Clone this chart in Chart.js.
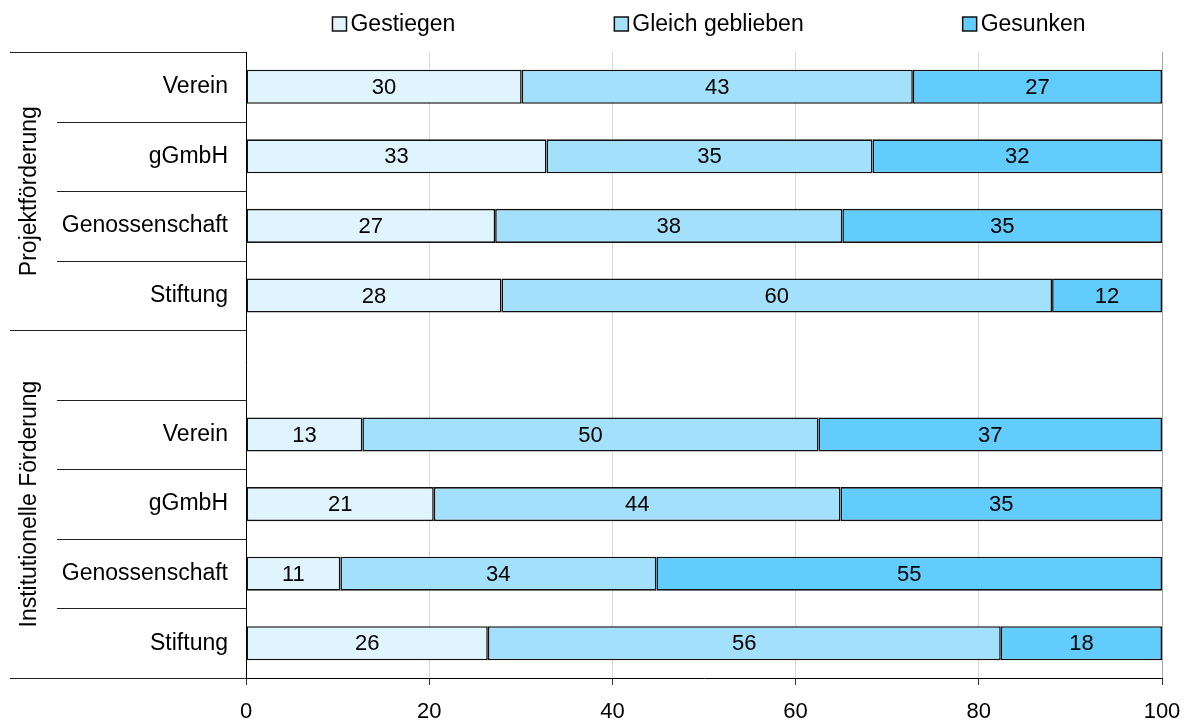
<!DOCTYPE html>
<html>
<head>
<meta charset="utf-8">
<script src="https://cdn.jsdelivr.net/npm/chart.js@4.4.0/dist/chart.umd.min.js"></script>
<style>
html, body { margin: 0; padding: 0; background: #fff; }
#wrap { width: 1189px; height: 722px; }
</style>
</head>
<body>
<div id="wrap"><canvas id="chart"></canvas></div>
<script>
const categories = ['Verein', 'gGmbH', 'Genossenschaft', 'Stiftung', '', 'Verein', 'gGmbH', 'Genossenschaft', 'Stiftung']
const groups = ['Projektförderung', 'Institutionelle Förderung']
const groupRows = [[0, 3], [4, 8]]
const seriesNames = ['Gestiegen', 'Gleich geblieben', 'Gesunken']

// shares as drawn (bar lengths), and the rounded numbers printed in the bars
const gestiegen = [30.1, 32.8, 27.2, 27.9, null, 12.7, 20.5, 10.3, 26.4]
const gleich = [42.7, 35.6, 37.9, 60.1, null, 49.8, 44.4, 34.5, 56.0]
const gesunken = [27.2, 31.6, 34.9, 12.0, null, 37.5, 35.1, 55.2, 17.6]
const gestiegenLabels = [30, 33, 27, 28, null, 13, 21, 11, 26]
const gleichLabels = [43, 35, 38, 60, null, 50, 44, 34, 56]
const gesunkenLabels = [27, 32, 35, 12, null, 37, 35, 55, 18]
const xTicks = [0, 20, 40, 60, 80, 100]

const colors = ['#e0f4fd', '#a3e0fb', '#62cdfc']
const FONT = '"Liberation Sans", Arial, sans-serif'

const values = [gestiegen, gleich, gesunken]
const valueLabels = [gestiegenLabels, gleichLabels, gesunkenLabels]

const decor = {
    id: 'decor',
    afterDatasetsDraw(chart) {
        const ctx = chart.ctx
        ctx.save()
        ctx.font = '22px ' + FONT
        ctx.fillStyle = '#000'
        ctx.textAlign = 'center'
        ctx.textBaseline = 'middle'
        chart.data.datasets.forEach((ds, di) => {
            chart.getDatasetMeta(di).data.forEach((bar, i) => {
                const lbl = valueLabels[di][i]
                if (lbl == null) return
                ctx.fillText(String(lbl), (bar.x + bar.base) / 2, bar.y + 1)
            })
        })
        ctx.restore()
    },
    afterDraw(chart) {
        const {ctx, chartArea: a, scales: {y}} = chart
        ctx.save()
        // row separators on the left
        ctx.strokeStyle = '#222'
        ctx.lineWidth = 1
        const step = y.getPixelForValue(1) - y.getPixelForValue(0)
        const longRows = [-0.5, 3.5, 8.5]
        for (let b = -0.5; b <= categories.length - 0.5; b += 1) {
            const py = Math.round(y.getPixelForValue(0) + b * step) + 0.5
            const x0 = longRows.includes(b) ? 10 : 57
            ctx.beginPath()
            ctx.moveTo(x0, py)
            ctx.lineTo(a.left, py)
            ctx.stroke()
        }
        // group titles, rotated
        ctx.font = '23px ' + FONT
        ctx.fillStyle = '#000'
        ctx.textAlign = 'center'
        ctx.textBaseline = 'middle'
        groups.forEach((g, gi) => {
            const [r0, r1] = groupRows[gi]
            const top = y.getPixelForValue(0) + (r0 - 0.5) * step
            const bot = y.getPixelForValue(0) + (r1 + 0.5) * step
            ctx.save()
            ctx.translate(30, (top + bot) / 2)
            ctx.rotate(-Math.PI / 2)
            ctx.fillText(g, 0, 0)
            ctx.restore()
        })
        // legend
        ctx.font = '23px ' + FONT
        ctx.textAlign = 'left'
        const box = 14, gapText = 4, gapItem = 159
        const widths = seriesNames.map(n => box + gapText + ctx.measureText(n).width)
        const total = widths.reduce((s, w) => s + w, 0) + gapItem * (seriesNames.length - 1)
        let lx = (a.left + a.right) / 2 + 5 - total / 2
        const ly = 24
        seriesNames.forEach((n, i) => {
            ctx.fillStyle = colors[i]
            ctx.fillRect(lx, ly - box / 2, box, box)
            ctx.strokeStyle = '#111'
            ctx.lineWidth = 1.5
            ctx.strokeRect(lx, ly - box / 2, box, box)
            ctx.fillStyle = '#000'
            ctx.fillText(n, lx + box + gapText, ly + 1)
            lx += widths[i] + gapItem
        })
        ctx.restore()
    }
}

new Chart(document.getElementById('chart'), {
    type: 'bar',
    data: {
        labels: categories,
        datasets: seriesNames.map((name, i) => ({
            label: name,
            data: values[i],
            backgroundColor: colors[i],
            borderColor: '#111',
            borderWidth: 1.6,
            borderSkipped: false,
            categoryPercentage: 0.5,
            barPercentage: 0.98,
        }))
    },
    options: {
        indexAxis: 'y',
        responsive: true,
        maintainAspectRatio: false,
        animation: false,
        layout: {
            padding: { top: 52, left: 10, right: 27, bottom: 0 }
        },
        scales: {
            x: {
                stacked: true,
                min: 0,
                max: 100,
                afterBuildTicks(scale) {
                    scale.ticks = xTicks.map(v => ({ value: v }))
                },
                afterFit(scale) {
                    scale.height = 44
                    scale.paddingLeft = 0
                    scale.paddingRight = 0
                },
                border: {
                    display: true,
                    color: '#000',
                    width: 1,
                },
                grid: {
                    display: true,
                    color: (c) => c.index === 0 ? 'rgba(0,0,0,0)' : (c.index === xTicks.length - 1 ? '#a6a6a6' : '#d9d9d9'),
                    lineWidth: 1,
                    drawTicks: true,
                    tickLength: 7,
                    tickColor: '#333',
                },
                ticks: {
                    color: '#000',
                    padding: 14,
                    maxRotation: 0,
                    font: { family: FONT, size: 22 },
                }
            },
            y: {
                stacked: true,
                afterFit(scale) {
                    scale.width = 236
                },
                border: {
                    display: true,
                    color: '#000',
                    width: 1,
                },
                grid: {
                    display: false,
                    drawTicks: false,
                    tickLength: 0,
                },
                ticks: {
                    color: '#000',
                    padding: 18,
                    autoSkip: false,
                    font: { family: FONT, size: 23 },
                }
            }
        },
        plugins: {
            legend: { display: false },
            tooltip: { enabled: false },
        }
    },
    plugins: [decor]
})
</script>
</body>
</html>
